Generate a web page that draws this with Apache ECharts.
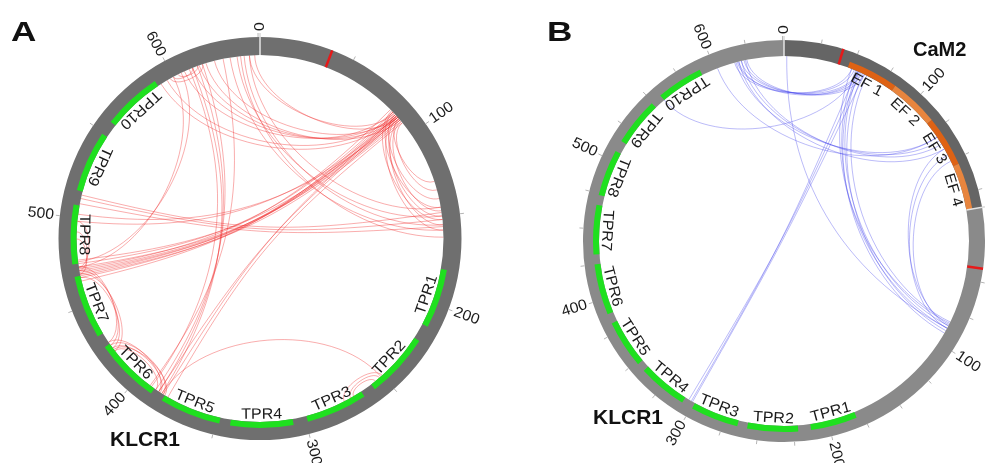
<!DOCTYPE html>
<html><head><meta charset="utf-8">
<script src="https://cdn.jsdelivr.net/npm/echarts@6/dist/echarts.min.js"></script>
<style>html,body{margin:0;padding:0;background:#fff}#c{width:985px;height:463px}</style>
</head><body><div id="c"></div>
<script>
// ---------------- DATA ----------------
const klcr1Length = 651;
const cam2Length = 187;
const tprNames = ['TPR1','TPR2','TPR3','TPR4','TPR5','TPR6','TPR7','TPR8','TPR9','TPR10'];
const tprStart = [180,222,265,307,348,389,432,474,515,557];
const tprEnd   = [213,258,299,342,382,425,467,507,549,590];
const efNames = ['EF 1','EF 2','EF 3','EF 4'];
const efStart = [47,83,118,154];
const efEnd   = [83,118,154,187];
const tickLabelsKLCR1 = [0,100,200,300,400,500,600];
const tickLabelsCaM2 = [0,100];
const minorStepA = 50;
const minorStepB = 25;
const redMarkA_KLCR1 = 38;
const redMarkB_CaM2 = 40;
const redMarkB_KLCR1 = 41;
// panel A: KLCR1 self cross-links (residue positions)
const linksAFrom = [86,88,87,90,85,89,91,84,88,82, 87,89,92, 612,615,618,610, 612,616,620,625,607, 638,642,645,634,640, 511,513,508, 86,88,90,84,92,87,89,91,83, 470,472,468, 466,470,468,472, 422,424,420,426,421, 252,255,250, 251, 592,596, 600,598,603, 630, 605,600, 498,502, 645,648];
const linksATo   = [468,470,466,472,464,469,467,474,476,471, 383,386,380, 384,386,388,391, 86,88,90,87,84, 150,155,145,158,162, 152,148,156, 140,150,155,145,135,158,130,147,152, 492,498,488, 422,424,420,426, 385,383,388,386,382, 272,270,276, 384, 88,86, 612,618,615, 392, 475,472, 87,89, 85,88];
// panel B: CaM2 - KLCR1 cross-links
const linksBCaM2  = [52,55,58,50,60,56, 54,57,60, 50,53,56,59,62,55, 130,133,136,140, 140,145,150, 55, 2, 130];
const linksBKLCR1 = [617,620,622,615,624,618, 302,304,301, 84,88,86,90,83,92, 616,620,623,618, 85,88,86, 557, 88, 602];

// ---------------- LAYOUT / STYLE ----------------
const RA_OUT = 201.5, RA_IN = 183.5;
const RB_OUT = 201, RB_IN = 185;
const DOMAIN_W = 6, TICK_L = 4, LABEL_GAP = 2;
const FONT = '"Liberation Sans", Arial, Helvetica, sans-serif';
const TXT = '#1a1a1a';

const chart = echarts.init(document.getElementById('c'), null, {renderer: 'canvas'});

function C(api){ return api.coord([0, 0]); }
function sAng(api, v){ const c = C(api), p = api.coord([100, v]); return Math.atan2(p[1]-c[1], p[0]-c[0]); }
function theta(api, v){ let a = sAng(api, v)*180/Math.PI + 90; return ((a % 360) + 360) % 360; }
function rpx(api, r){ const c = C(api), p = api.coord([r, 0]); return Math.hypot(p[0]-c[0], p[1]-c[1]); }
function sector(api, v0, v1, r0, r1, color){
  const c = C(api); const a0 = sAng(api, v0); let d = sAng(api, v1) - a0;
  while (d < 0) d += 2*Math.PI;
  if (d < 1e-3 && (v1 - v0) > 1) d += 2*Math.PI;
  return {type:'sector', shape:{cx:c[0], cy:c[1], r0:rpx(api, r0), r:rpx(api, r1), startAngle:a0, endAngle:a0+d, clockwise:true}, style:{fill:color}};
}
function radialLine(api, v, r0, r1, color, w){
  const p0 = api.coord([r0, v]), p1 = api.coord([r1, v]);
  return {type:'line', shape:{x1:p0[0], y1:p0[1], x2:p1[0], y2:p1[1]}, style:{stroke:color, lineWidth:w}};
}
function tickLabel(api, v, text, rOut){
  const th = theta(api, v); const p = api.coord([rOut + TICK_L + LABEL_GAP, v]);
  let rho, align;
  if (th < 180) { rho = th - 90; align = 'left'; } else { rho = th - 270; align = 'right'; }
  return {type:'text', x:p[0], y:p[1], rotation:-rho*Math.PI/180, scaleX:1.05,
    style:{text:String(text), fill:TXT, font:'15px ' + FONT, align:align, verticalAlign:'middle'}};
}
function domainLabel(api, v, text, rIn, outwardTop){
  const th = theta(api, v);
  const p = api.coord([rIn - (outwardTop ? 1 : 0), v]);
  const rho = outwardTop ? th : th - 180;
  return {type:'text', x:p[0], y:p[1], rotation:-rho*Math.PI/180, scaleX:1.07,
    style:{text:text, fill:TXT, font:'15px ' + FONT, align:'center', verticalAlign: outwardTop ? 'top' : 'bottom'}};
}
function chord(api, va, vb, r, color){
  const c = C(api);
  const pa = api.coord([r, va]), pb = api.coord([r, vb]);
  let d = Math.abs(theta(api, va) - theta(api, vb)); if (d > 180) d = 360 - d;
  const k = 1 - d/180;
  return {type:'bezierCurve', shape:{x1:pa[0], y1:pa[1], x2:pb[0], y2:pb[1],
      cpx1:c[0]+(pa[0]-c[0])*k, cpy1:c[1]+(pa[1]-c[1])*k, cpx2:c[0]+(pb[0]-c[0])*k, cpy2:c[1]+(pb[1]-c[1])*k},
    style:{stroke:color, lineWidth:1, fill:'none'}};
}

// B offsets: CaM2 starts at 0, KLCR1 follows
const offB = {CaM2: 0, KLCR1: cam2Length};
const totalB = cam2Length + klcr1Length;

function ticksList(len, step){ const a = []; for (let v = 0; v < len; v += step) a.push(v); return a; }

const series = [];
// ---------- Panel A ----------
series.push({type:'custom', coordinateSystem:'polar', polarIndex:0, z:1, silent:true,
  data: linksAFrom.map((f, i) => [f, linksATo[i]]),
  renderItem: (p, api) => chord(api, api.value(0), api.value(1), RA_IN, 'rgba(238,40,40,0.38)')});
series.push({type:'custom', coordinateSystem:'polar', polarIndex:0, z:2, silent:true,
  data: [[0, klcr1Length]],
  renderItem: (p, api) => sector(api, api.value(0), api.value(1), RA_IN, RA_OUT, '#6f6f6f')});
series.push({type:'custom', coordinateSystem:'polar', polarIndex:0, z:3, silent:true,
  data: tprStart.map((s, i) => [s, tprEnd[i]]),
  renderItem: (p, api) => ({type:'group', children:[
    sector(api, api.value(0), api.value(1), RA_IN, RA_IN + DOMAIN_W, '#1fe01f'),
    domainLabel(api, (api.value(0)+api.value(1))/2, tprNames[p.dataIndex], RA_IN, false)]})});
series.push({type:'custom', coordinateSystem:'polar', polarIndex:0, z:4, silent:true,
  data: ticksList(klcr1Length, minorStepA).map(v => [v]),
  renderItem: (p, api) => {
    const v = api.value(0); const ch = [radialLine(api, v, RA_OUT, RA_OUT + TICK_L, '#b5b5b5', 1)];
    if (v === 0) ch.push(radialLine(api, v, RA_IN, RA_OUT + TICK_L, '#e4e4e4', 1.5));
    if (tickLabelsKLCR1.indexOf(v) >= 0) ch.push(tickLabel(api, v, v, RA_OUT));
    return {type:'group', children:ch};
  }});
series.push({type:'custom', coordinateSystem:'polar', polarIndex:0, z:4, silent:true,
  data: [[redMarkA_KLCR1]],
  renderItem: (p, api) => radialLine(api, api.value(0), RA_IN, RA_OUT, '#e61919', 2.5)});

// ---------- Panel B ----------
series.push({type:'custom', coordinateSystem:'polar', polarIndex:1, z:1, silent:true,
  data: linksBCaM2.map((c, i) => [offB.CaM2 + c, offB.KLCR1 + linksBKLCR1[i]]),
  renderItem: (p, api) => chord(api, api.value(0), api.value(1), RB_IN, 'rgba(60,60,235,0.35)')});
series.push({type:'custom', coordinateSystem:'polar', polarIndex:1, z:2, silent:true,
  data: [[offB.CaM2, offB.CaM2 + cam2Length], [offB.KLCR1, offB.KLCR1 + klcr1Length]],
  renderItem: (p, api) => sector(api, api.value(0), api.value(1), RB_IN, RB_OUT, p.dataIndex === 0 ? '#656565' : '#8a8a8a')});
series.push({type:'custom', coordinateSystem:'polar', polarIndex:1, z:3, silent:true,
  data: tprStart.map((s, i) => [offB.KLCR1 + s, offB.KLCR1 + tprEnd[i]]),
  renderItem: (p, api) => ({type:'group', children:[
    sector(api, api.value(0), api.value(1), RB_IN, RB_IN + DOMAIN_W, '#1fe01f'),
    domainLabel(api, (api.value(0)+api.value(1))/2, tprNames[p.dataIndex], RB_IN, false)]})});
series.push({type:'custom', coordinateSystem:'polar', polarIndex:1, z:3, silent:true,
  data: efStart.map((s, i) => [offB.CaM2 + s, offB.CaM2 + efEnd[i]]),
  renderItem: (p, api) => ({type:'group', children:[
    sector(api, api.value(0), api.value(1), RB_IN, RB_IN + DOMAIN_W, p.dataIndex % 2 === 0 ? '#de6214' : '#e8853e'),
    domainLabel(api, (api.value(0)+api.value(1))/2, efNames[p.dataIndex], RB_IN, true)]})});
series.push({type:'custom', coordinateSystem:'polar', polarIndex:1, z:4, silent:true,
  data: ticksList(cam2Length, minorStepB).map(v => [offB.CaM2 + v, v]).concat(ticksList(klcr1Length, minorStepB).map(v => [offB.KLCR1 + v, v])),
  renderItem: (p, api) => {
    const g = api.value(0), v = api.value(1); const isCaM = g < offB.KLCR1;
    const ch = [radialLine(api, g, RB_OUT, RB_OUT + TICK_L, '#b5b5b5', 1)];
    if (v === 0) ch.push(radialLine(api, g, RB_IN, RB_OUT + TICK_L, '#e4e4e4', 1.5));
    const labels = isCaM ? tickLabelsCaM2 : tickLabelsKLCR1;
    if (labels.indexOf(v) >= 0) ch.push(tickLabel(api, g, v, RB_OUT));
    return {type:'group', children:ch};
  }});
series.push({type:'custom', coordinateSystem:'polar', polarIndex:1, z:4, silent:true,
  data: [[offB.CaM2 + redMarkB_CaM2], [offB.KLCR1 + redMarkB_KLCR1]],
  renderItem: (p, api) => radialLine(api, api.value(0), RB_IN, RB_OUT, '#e61919', 2.5)});

const option = {
  animation: false,
  polar: [{center:[260, 238.5], radius:[0, RA_OUT]}, {center:[784, 241], radius:[0, RB_OUT]}],
  angleAxis: [
    {polarIndex:0, type:'value', min:0, max:klcr1Length, startAngle:90, clockwise:true, show:false},
    {polarIndex:1, type:'value', min:0, max:totalB, startAngle:90, clockwise:true, show:false}],
  radiusAxis: [
    {polarIndex:0, type:'value', min:0, max:RA_OUT, show:false},
    {polarIndex:1, type:'value', min:0, max:RB_OUT, show:false}],
  graphic: [
    {type:'text', x:11, y:34, scaleX:1.3, style:{text:'A', font:'bold 27px ' + FONT, fill:'#111', verticalAlign:'middle'}},
    {type:'text', x:547, y:34, scaleX:1.3, style:{text:'B', font:'bold 27px ' + FONT, fill:'#111', verticalAlign:'middle'}},
    {type:'text', x:110, y:440, style:{text:'KLCR1', font:'bold 21px ' + FONT, fill:'#111', verticalAlign:'middle'}},
    {type:'text', x:593, y:418, style:{text:'KLCR1', font:'bold 21px ' + FONT, fill:'#111', verticalAlign:'middle'}},
    {type:'text', x:913, y:50, style:{text:'CaM2', font:'bold 20px ' + FONT, fill:'#111', verticalAlign:'middle'}}
  ],
  series: series
};
chart.setOption(option);
</script></body></html>
